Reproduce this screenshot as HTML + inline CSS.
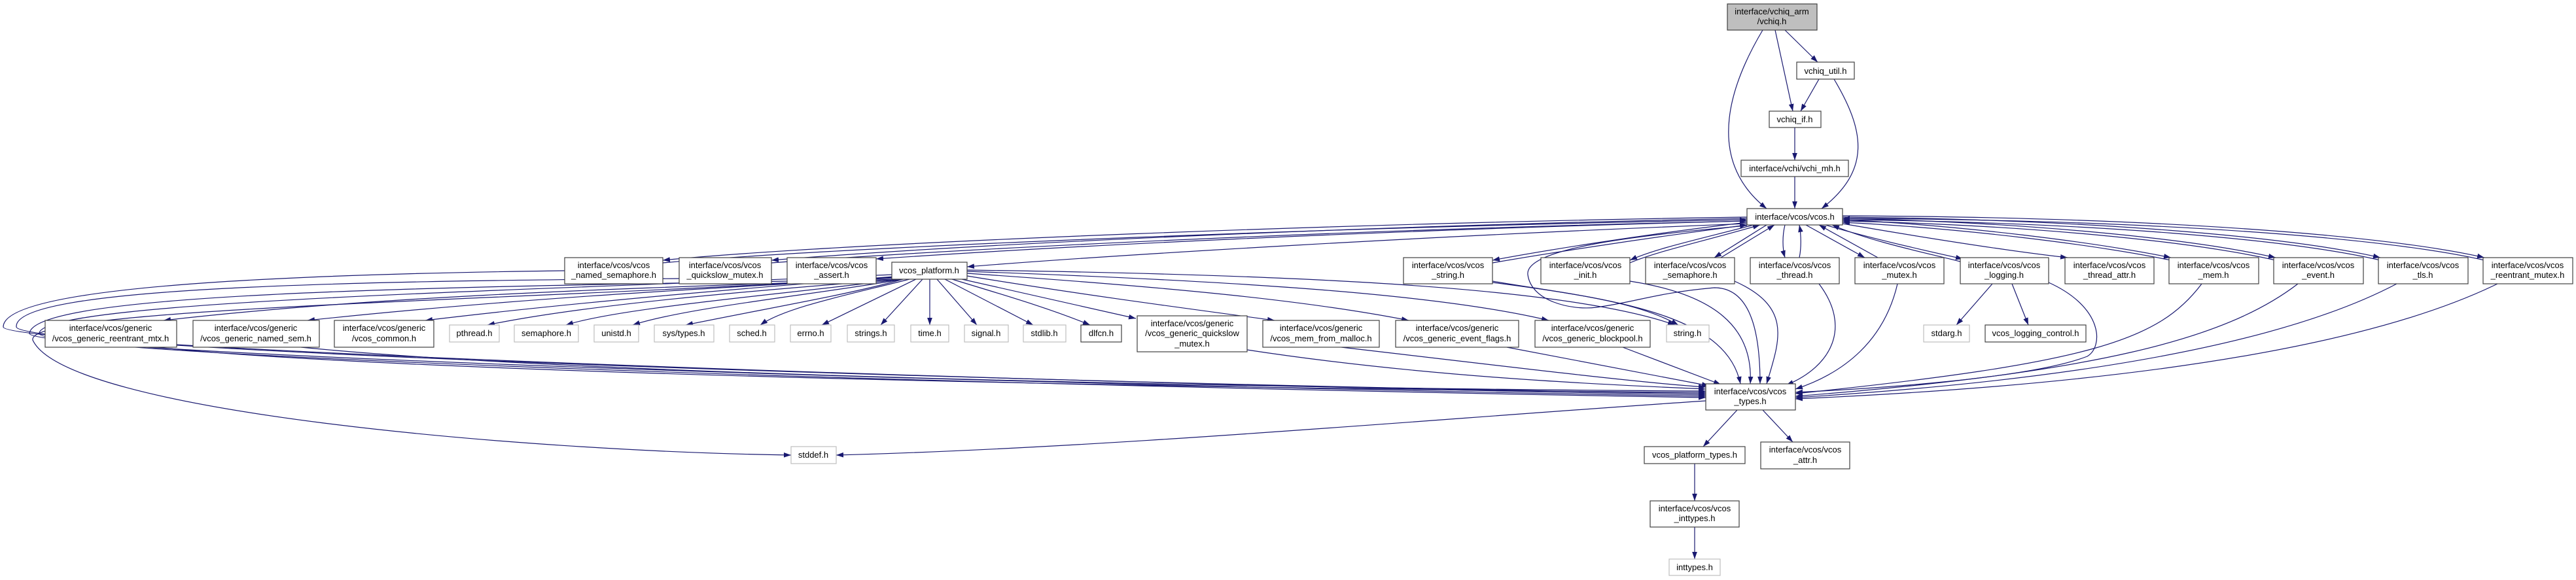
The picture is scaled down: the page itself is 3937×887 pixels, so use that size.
<!DOCTYPE html>
<html><head><meta charset="utf-8"><style>
html,body{margin:0;padding:0;background:#fff;}
svg{display:block;}
text{font-family:"Liberation Sans",sans-serif;font-size:13px;fill:#000;text-anchor:middle;}
.n{fill:#fff;stroke:#404040;stroke-width:1.2;}
.g{fill:#fff;stroke:#bfbfbf;stroke-width:1.2;}
.e{fill:none;stroke:#191970;stroke-width:1.2;}
</style></head><body>
<svg width="3937" height="887" viewBox="0 0 3937 887" xmlns="http://www.w3.org/2000/svg">
<defs><marker id="a" viewBox="0 0 10 7" refX="10" refY="3.5" markerWidth="11" markerHeight="8" markerUnits="userSpaceOnUse" orient="auto"><path d="M0,0L10,3.5L0,7z" fill="#191970"/></marker></defs>
<g class="e" marker-end="url(#a)">
<path d="M2694,46 C2650,120 2600,240 2700,319"/>
<path d="M2713,46 L2740,170"/>
<path d="M2728,46 L2778,95"/>
<path d="M2780,121 L2752,170"/>
<path d="M2803,121 C2850,200 2860,260 2784,319"/>
<path d="M2743,195 L2743,245"/>
<path d="M2743,270 L2743,319"/>
<path d="M2670,332 C2100,340 1300,370 1013,398"/>
<path d="M1013,402 C1300,376 2100,346 2670,336"/>
<path d="M2670,334 C2100,345 1500,372 1179,398"/>
<path d="M1179,402 C1500,378 2100,350 2670,338"/>
<path d="M2670,338 C2100,352 1600,378 1339,396"/>
<path d="M2670,342 C2200,360 1700,390 1478,408"/>
<path d="M2670,340 C2500,360 2350,385 2281,398"/>
<path d="M2281,402 C2350,390 2500,366 2670,344"/>
<path d="M2680,344 C2600,365 2530,380 2491,398"/>
<path d="M2491,402 C2530,385 2600,370 2690,344"/>
<path d="M2700,344 L2620,394"/>
<path d="M2630,394 L2712,344"/>
<path d="M2728,344 C2724,360 2724,380 2728,394"/>
<path d="M2750,394 C2753,380 2753,360 2750,344"/>
<path d="M2760,344 L2850,394"/>
<path d="M2870,394 L2780,344"/>
<path d="M2790,344 C2860,365 2950,385 3000,396"/>
<path d="M2996,400 C2950,388 2860,370 2800,344"/>
<path d="M2816,342 C2950,365 3080,385 3160,394"/>
<path d="M2816,336 C3000,345 3200,370 3318,394"/>
<path d="M3318,398 C3200,374 3000,349 2816,340"/>
<path d="M2816,334 C3100,340 3350,365 3478,394"/>
<path d="M3478,398 C3350,369 3100,344 2816,338"/>
<path d="M2816,332 C3200,336 3500,362 3638,394"/>
<path d="M3638,398 C3500,366 3200,340 2816,336"/>
<path d="M2816,330 C3300,332 3650,360 3797,394"/>
<path d="M3797,398 C3650,364 3300,336 2816,334"/>
<path d="M2670,345 C2500,360 2330,380 2335,420 C2340,460 2400,475 2440,470 C2500,462 2530,448 2620,440 C2680,440 2690,520 2690,587"/>
<path d="M1380,427 C1300,450 1180,470 1048,497"/>
<path d="M1390,427 C1300,450 1200,470 1162,497"/>
<path d="M1400,427 L1256,497"/>
<path d="M1410,427 L1346,497"/>
<path d="M1421,427 L1421,497"/>
<path d="M1432,427 L1493,497"/>
<path d="M1444,427 L1579,497"/>
<path d="M1455,427 C1530,450 1600,470 1666,497"/>
<path d="M1470,427 L1736,487"/>
<path d="M1478,422 C1650,450 1800,470 1948,490"/>
<path d="M1478,418 C1800,440 2000,460 2153,490"/>
<path d="M1478,415 C1900,430 2200,450 2367,490"/>
<path d="M1478,413 C2000,420 2400,440 2560,497"/>
<path d="M1370,427 C1000,440 600,450 250,490"/>
<path d="M1368,425 C1100,440 800,455 470,490"/>
<path d="M1366,423 C1150,440 900,460 650,490"/>
<path d="M1372,427 C1150,445 900,465 745,497"/>
<path d="M1376,427 C1200,450 950,470 865,497"/>
<path d="M1380,427 C1250,450 1050,470 967,497"/>
<path d="M863,414 C400,420 5,440 5,500 C5,530 1500,585 2607,604"/>
<path d="M1038,426 C500,430 20,440 25,500 C30,535 1500,585 2607,602"/>
<path d="M1203,430 C600,440 50,450 45,510 C50,540 1500,588 2607,606"/>
<path d="M1363,420 C800,445 60,460 60,510 C60,545 1500,590 2607,608"/>
<path d="M1365,424 C800,460 40,470 50,520 C100,630 800,690 1209,696"/>
<path d="M240,531 C600,570 1800,595 2607,600"/>
<path d="M460,531 C900,575 2000,595 2607,598"/>
<path d="M1906,535 C2200,580 2500,590 2607,595"/>
<path d="M2050,531 C2300,560 2500,585 2607,592"/>
<path d="M2303,531 L2612,590"/>
<path d="M2480,531 L2630,588"/>
<path d="M2607,613 C2200,640 1700,685 1278,696"/>
<path d="M2281,430 C2400,450 2500,460 2565,497"/>
<path d="M2281,432 C2500,460 2640,490 2660,587"/>
<path d="M2491,430 C2620,450 2680,500 2675,587"/>
<path d="M2651,430 C2740,470 2720,520 2700,587"/>
<path d="M2780,434 C2830,500 2800,560 2730,589"/>
<path d="M2900,434 C2880,520 2820,570 2744,595"/>
<path d="M3131,432 C3215,470 3215,530 3190,545 C3100,580 2850,595 2744,600"/>
<path d="M3045,434 L2990,497"/>
<path d="M3075,434 L3100,497"/>
<path d="M3365,434 C3300,520 3200,555 2744,602"/>
<path d="M3512,434 C3400,520 3200,570 2744,606"/>
<path d="M3663,434 C3500,520 3200,580 2744,608"/>
<path d="M3817,434 C3600,540 3200,590 2744,610"/>
<path d="M2655,627 L2603,683"/>
<path d="M2694,627 L2740,676"/>
<path d="M2590,709 L2590,766"/>
<path d="M2590,806 L2590,855"/>
</g>
<rect x="2640" y="6" width="137" height="40" fill="#bfbfbf" stroke="#404040" stroke-width="1.2"/>
<text x="2708" y="22">interface/vchiq_arm</text><text x="2708" y="37">/vchiq.h</text>
<rect class="n" x="2746" y="95" width="88" height="26"/><text x="2790" y="113">vchiq_util.h</text>
<rect class="n" x="2704" y="170" width="79" height="25"/><text x="2743" y="187">vchiq_if.h</text>
<rect class="n" x="2661" y="245" width="164" height="25"/><text x="2743" y="262">interface/vchi/vchi_mh.h</text>
<rect class="n" x="2670" y="319" width="146" height="25"/><text x="2743" y="336">interface/vcos/vcos.h</text>
<g>
<rect class="n" x="863" y="394" width="150" height="40"/><text x="938" y="410">interface/vcos/vcos</text><text x="938" y="425">_named_semaphore.h</text>
<rect class="n" x="1038" y="394" width="141" height="40"/><text x="1108" y="410">interface/vcos/vcos</text><text x="1108" y="425">_quickslow_mutex.h</text>
<rect class="n" x="1203" y="394" width="136" height="40"/><text x="1271" y="410">interface/vcos/vcos</text><text x="1271" y="425">_assert.h</text>
<rect class="n" x="1363" y="401" width="115" height="26"/><text x="1420" y="418">vcos_platform.h</text>
<rect class="n" x="2145" y="394" width="136" height="40"/><text x="2213" y="410">interface/vcos/vcos</text><text x="2213" y="425">_string.h</text>
<rect class="n" x="2355" y="394" width="136" height="40"/><text x="2423" y="410">interface/vcos/vcos</text><text x="2423" y="425">_init.h</text>
<rect class="n" x="2515" y="394" width="136" height="40"/><text x="2583" y="410">interface/vcos/vcos</text><text x="2583" y="425">_semaphore.h</text>
<rect class="n" x="2675" y="394" width="136" height="40"/><text x="2743" y="410">interface/vcos/vcos</text><text x="2743" y="425">_thread.h</text>
<rect class="n" x="2835" y="394" width="136" height="40"/><text x="2903" y="410">interface/vcos/vcos</text><text x="2903" y="425">_mutex.h</text>
<rect class="n" x="2996" y="394" width="135" height="40"/><text x="3063" y="410">interface/vcos/vcos</text><text x="3063" y="425">_logging.h</text>
<rect class="n" x="3156" y="394" width="136" height="40"/><text x="3224" y="410">interface/vcos/vcos</text><text x="3224" y="425">_thread_attr.h</text>
<rect class="n" x="3315" y="394" width="137" height="40"/><text x="3383" y="410">interface/vcos/vcos</text><text x="3383" y="425">_mem.h</text>
<rect class="n" x="3475" y="394" width="137" height="40"/><text x="3543" y="410">interface/vcos/vcos</text><text x="3543" y="425">_event.h</text>
<rect class="n" x="3635" y="394" width="137" height="40"/><text x="3703" y="410">interface/vcos/vcos</text><text x="3703" y="425">_tls.h</text>
<rect class="n" x="3795" y="394" width="137" height="40"/><text x="3863" y="410">interface/vcos/vcos</text><text x="3863" y="425">_reentrant_mutex.h</text>
</g>
<g>
<rect class="n" x="69" y="490" width="201" height="41"/><text x="169" y="506">interface/vcos/generic</text><text x="169" y="522">/vcos_generic_reentrant_mtx.h</text>
<rect class="n" x="295" y="490" width="193" height="41"/><text x="391" y="506">interface/vcos/generic</text><text x="391" y="522">/vcos_generic_named_sem.h</text>
<rect class="n" x="511" y="490" width="152" height="41"/><text x="587" y="506">interface/vcos/generic</text><text x="587" y="522">/vcos_common.h</text>
<rect class="g" x="687" y="497" width="76" height="26"/><text x="725" y="514">pthread.h</text>
<rect class="g" x="786" y="497" width="98" height="26"/><text x="835" y="514">semaphore.h</text>
<rect class="g" x="908" y="497" width="68" height="26"/><text x="942" y="514">unistd.h</text>
<rect class="g" x="1000" y="497" width="91" height="26"/><text x="1045" y="514">sys/types.h</text>
<rect class="g" x="1115" y="497" width="69" height="26"/><text x="1149" y="514">sched.h</text>
<rect class="g" x="1208" y="497" width="62" height="26"/><text x="1239" y="514">errno.h</text>
<rect class="g" x="1295" y="497" width="72" height="26"/><text x="1331" y="514">strings.h</text>
<rect class="g" x="1392" y="497" width="58" height="26"/><text x="1421" y="514">time.h</text>
<rect class="g" x="1474" y="497" width="67" height="26"/><text x="1507" y="514">signal.h</text>
<rect class="g" x="1564" y="497" width="65" height="26"/><text x="1596" y="514">stdlib.h</text>
<rect class="n" x="1652" y="497" width="62" height="26"/><text x="1683" y="514">dlfcn.h</text>
<rect class="n" x="1738" y="483" width="168" height="55"/><text x="1822" y="499">interface/vcos/generic</text><text x="1822" y="514">/vcos_generic_quickslow</text><text x="1822" y="530">_mutex.h</text>
<rect class="n" x="1930" y="490" width="178" height="41"/><text x="2019" y="506">interface/vcos/generic</text><text x="2019" y="522">/vcos_mem_from_malloc.h</text>
<rect class="n" x="2133" y="490" width="188" height="41"/><text x="2227" y="506">interface/vcos/generic</text><text x="2227" y="522">/vcos_generic_event_flags.h</text>
<rect class="n" x="2346" y="490" width="176" height="41"/><text x="2434" y="506">interface/vcos/generic</text><text x="2434" y="522">/vcos_generic_blockpool.h</text>
<rect class="g" x="2547" y="497" width="65" height="26"/><text x="2579" y="514">string.h</text>
<rect class="g" x="2940" y="497" width="70" height="26"/><text x="2975" y="514">stdarg.h</text>
<rect class="n" x="3034" y="497" width="154" height="26"/><text x="3111" y="514">vcos_logging_control.h</text>
</g>
<rect class="n" x="2607" y="587" width="137" height="40"/><text x="2675" y="603">interface/vcos/vcos</text><text x="2675" y="618">_types.h</text>
<rect class="g" x="1209" y="683" width="69" height="26"/><text x="1243" y="700">stddef.h</text>
<rect class="n" x="2513" y="683" width="154" height="26"/><text x="2590" y="700">vcos_platform_types.h</text>
<rect class="n" x="2691" y="676" width="136" height="41"/><text x="2759" y="692">interface/vcos/vcos</text><text x="2759" y="708">_attr.h</text>
<rect class="n" x="2522" y="766" width="136" height="40"/><text x="2590" y="782">interface/vcos/vcos</text><text x="2590" y="797">_inttypes.h</text>
<rect class="g" x="2551" y="855" width="78" height="25"/><text x="2590" y="872">inttypes.h</text>
</svg>
</body></html>
